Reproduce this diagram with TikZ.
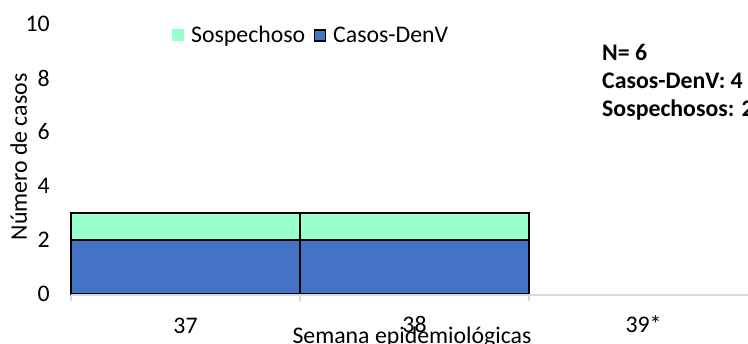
\documentclass[tikz,border=0pt]{standalone}
\usepackage{fontspec}
\setmainfont{Carlito}
\usetikzlibrary{positioning}
\definecolor{denv}{HTML}{4472C4}
\definecolor{sosp}{HTML}{99FFCC}
\definecolor{ejegris}{HTML}{D9D9D9}
\tikzset{
    lbl/.style={font=\fontsize{23.8}{28}\selectfont, inner sep=0pt},
    nota/.style={font=\fontsize{23.8}{28}\selectfont\bfseries, inner sep=0pt, anchor=base west},
    barra/.style={draw=black, line width=1.5pt},
    cuadro/.style={minimum size=12pt, inner sep=0pt}
}

\begin{document}
\begin{tikzpicture}[x=1pt,y=-1pt]
\useasboundingbox (0,0) rectangle (748,344);

% bars
\foreach \xa/\xb in {71/300,300/529} {
    \draw[barra, fill=denv] (\xa,294) rectangle (\xb,240);
    \draw[barra, fill=sosp] (\xa,240) rectangle (\xb,213);
}

% x axis
\draw[ejegris, line width=1.2pt] (71,295) -- (748,295);
\foreach \x in {71,300,529} \draw[ejegris, line width=1.2pt] (\x,295) -- (\x,301);
\node[lbl, anchor=base] (x37) at (185.5,334) {37};
\node[lbl, anchor=base] (x38) at (414.5,333) {38};
\node[lbl, anchor=base] (x39) at (643.5,333) {39*};
\node[lbl, anchor=base] (xtit) at (412,343.5) {Semana epidemiológicas};

% y axis labels
\foreach \v in {0,2,...,10} \node[lbl, anchor=east] (y\v) at (50,{294-27*\v}) {\v};
\node[lbl, rotate=90, anchor=base] (ytit) at (27,157) {Número de casos};

% legend
\node[cuadro, fill=sosp] (legS) at (178,35) {};
\node[lbl, anchor=base west] (legStxt) at (191,43) {Sospechoso};
\node[cuadro, fill=denv, draw=black, line width=1.2pt, minimum size=11pt] (legD) at (320,35.5) {};
\node[lbl, anchor=base west] (legDtxt) at (333,43) {Casos-DenV};

% totals
\node[nota] (totN) at (602,61) {N= 6};
\node[nota] (totD) at (602,89) {Casos-DenV: 4};
\node[nota] (totS) at (602,117) {Sospechosos: 2};
\end{tikzpicture}
\end{document}
